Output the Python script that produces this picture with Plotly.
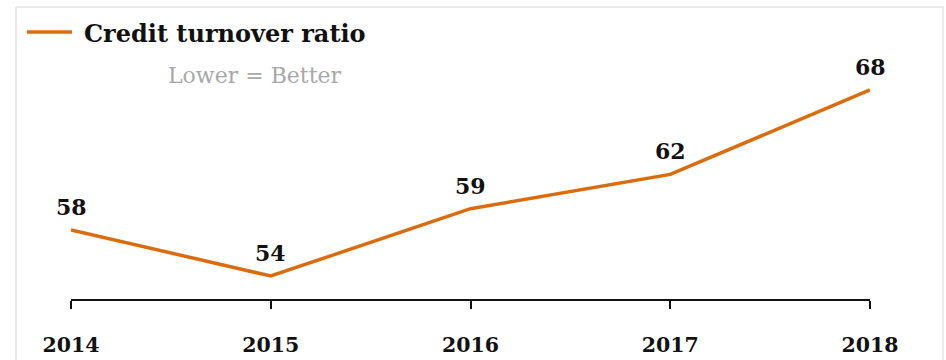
import plotly.graph_objects as go

years = [2014, 2015, 2016, 2017, 2018]
values = [57.5, 54.0, 59.1, 61.7, 68.1]
labels = ["58", "54", "59", "62", "68"]
series_name = "Credit turnover ratio"
note = "Lower = Better"

ORANGE = "#DB6C0E"
FONT = "DejaVu Serif"

W, H = 946, 360
L, R, T, B = 71, 76, 60, 61
pw, ph = W - L - R, H - T - B

def px(p):
    return (p - L) / pw

def py(p):
    return (H - B - p) / ph

fig = go.Figure()
fig.add_trace(go.Scatter(
    x=years, y=values, mode="lines",
    line=dict(color=ORANGE, width=3.5),
    hoverinfo="skip", showlegend=False,
))

for x, y, t in zip(years, values, labels):
    fig.add_annotation(x=x, y=y, text=t, showarrow=False, yshift=23,
                       font=dict(family=FONT, size=22, color="#111111", weight="bold"))

# border
fig.add_shape(type="rect", xref="paper", yref="paper",
              x0=px(16), x1=px(943), y0=py(380), y1=py(7),
              line=dict(color="#E3E3E3", width=1.5), layer="below")
# legend line
fig.add_shape(type="line", xref="paper", yref="paper",
              x0=px(27), x1=px(72), y0=py(32), y1=py(32),
              line=dict(color=ORANGE, width=3.5))
fig.add_annotation(xref="paper", yref="paper", x=px(82), y=py(33),
                   xanchor="left", yanchor="middle", text=series_name, showarrow=False,
                   font=dict(family=FONT, size=24, color="#111111", weight="bold"))
fig.add_annotation(xref="paper", yref="paper", x=px(255), y=py(76),
                   xanchor="center", yanchor="middle", text=note, showarrow=False,
                   font=dict(family=FONT, size=22, color="#A8A8A8"))

fig.update_xaxes(
    range=[2014, 2018], tickvals=years, ticktext=[str(y) for y in years],
    showgrid=False, zeroline=False, showline=True, linecolor="#111111", linewidth=2,
    ticks="outside", ticklen=8, tickwidth=2, tickcolor="#111111",
    tickfont=dict(family=FONT, size=20.5, color="#111111", weight="bold"),
    ticklabelstandoff=18,
)
fig.update_yaxes(range=[52.26, 52.26 + ph / 13.2], visible=False, showgrid=False, zeroline=False)

fig.update_layout(
    width=W, height=H, margin=dict(l=L, r=R, t=T, b=B, autoexpand=False),
    paper_bgcolor="white", plot_bgcolor="white",
)
fig.write_html("out.html", config={"displayModeBar": False},
               post_script="document.body.style.margin='0';document.body.style.overflow='hidden';")
